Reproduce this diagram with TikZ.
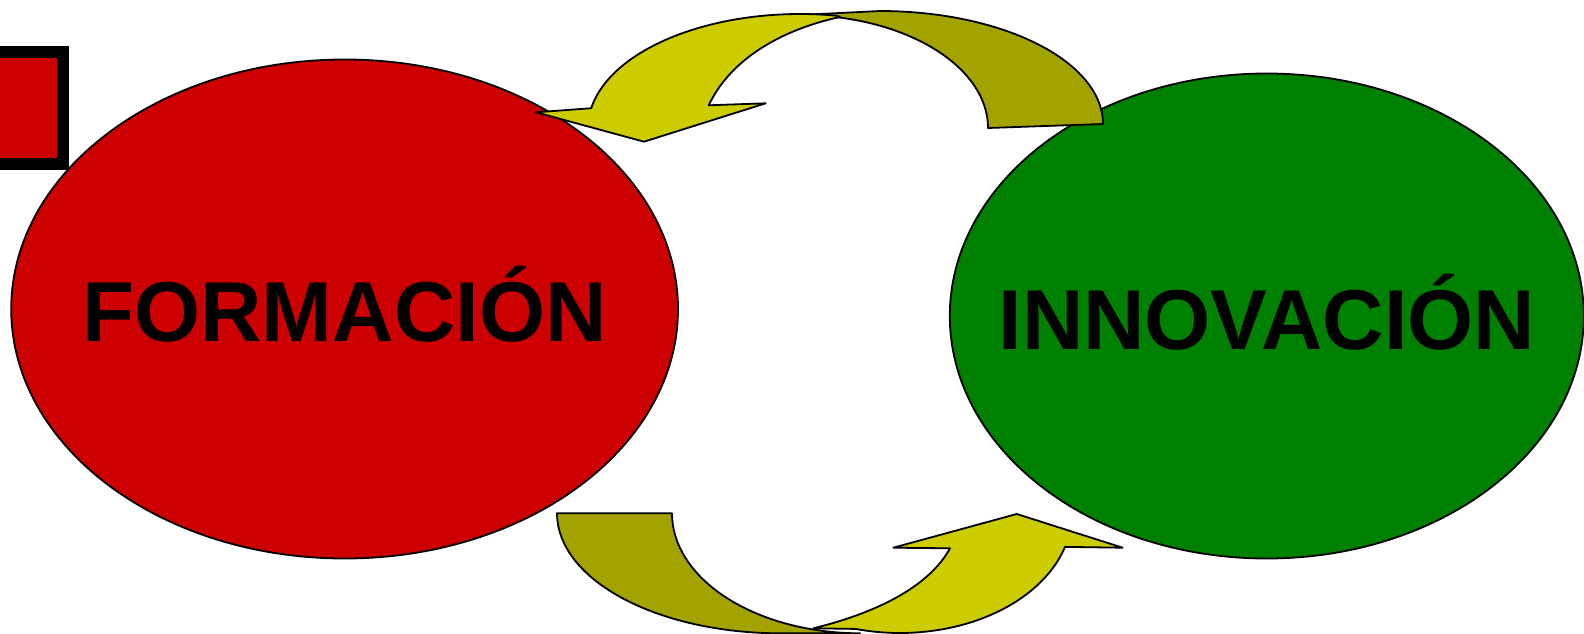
\documentclass[tikz,border=0pt]{standalone}
\usepackage{fontspec}
\setmainfont{Liberation Sans}
\usetikzlibrary{shapes.geometric}
\definecolor{blobred}{RGB}{204,0,0}
\definecolor{blobgreen}{RGB}{0,128,0}
\definecolor{arrowyellow}{RGB}{204,204,0}
\definecolor{arrowolive}{RGB}{163,163,0}
\tikzset{
  outl/.style={draw=black, line width=1.8pt, line join=round},
  blob/.style={ellipse, outl, inner sep=0pt, outer sep=0pt},
  lbl/.style={inner sep=0pt, anchor=base, text=black,
    font=\fontsize{85}{85}\selectfont\bfseries},
  frontpart/.style={outl, fill=arrowyellow},
  backpart/.style={outl, fill=arrowolive}
}
\begin{document}
\begin{tikzpicture}[x=1pt,y=-1pt]
\useasboundingbox (0,0) rectangle (1584,634);
% small square at left
\draw[line width=12pt, draw=black, fill=blobred] (-40,52.5) rectangle (62.5,163.7);
% ellipses
\node[blob, fill=blobred, minimum width=666.8pt, minimum height=499pt] (formacion) at (344.6,309) {};
\node[blob, fill=blobgreen, minimum width=634pt, minimum height=485pt] (innovacion) at (1266.8,316) {};
\node[lbl] (tformacion) at (344.6,341) {FORMACIÓN};
\node[lbl] (tinnovacion) at (1266.8,349.5) {INNOVACIÓN};
% top curved arrow: back part
\draw[backpart] plot[domain=0:90,samples=50] ({880+223*cos(\x)},{124-113*sin(\x)})
  -- (800,15)
  -- plot[domain=90:0,samples=50] ({800+188*cos(\x)},{128-113*sin(\x)}) -- cycle;
% top curved arrow: front part
\draw[frontpart] plot[domain=80:170,samples=50] ({800+212*cos(\x)},{128-114*sin(\x)})
  -- (536,112.3) -- (644,141.7) -- (765.7,103.3) -- (708.7,105.3)
  .. controls (730,60) and (780,30) .. (840,17) -- cycle;
% bottom curved arrow: back part
\draw[backpart] (556.7,513.3) -- (671.7,513.3)
  -- plot[domain=180:270,samples=50] ({860+188*cos(\x)},{513.3-120*sin(\x)})
  -- plot[domain=270:180,samples=50] ({780+223*cos(\x)},{513.3-120*sin(\x)}) -- cycle;
% bottom curved arrow: front part
\draw[frontpart] (813.3,628.3)
  -- plot[domain=255:343.6,samples=50] ({900+172*cos(\x)},{513-120*sin(\x)})
  -- (1122.7,547.7) -- (1016.7,514) -- (893.3,547.7) -- (950,548.3)
  .. controls (930,585) and (880,612) .. (813.3,628.3) -- cycle;
\end{tikzpicture}
\end{document}
